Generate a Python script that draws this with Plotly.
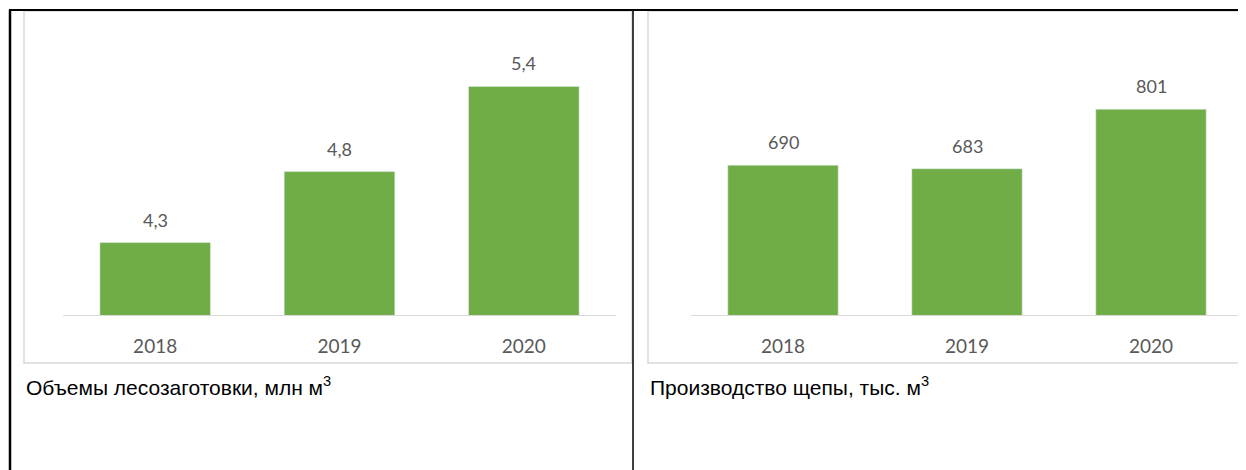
import plotly.graph_objects as go
from plotly.subplots import make_subplots

# data
years = ["2018", "2019", "2020"]
logging_vol = [4.3, 4.8, 5.4]          # млн м3
logging_labels = ["4,3", "4,8", "5,4"]
chips_vol = [690, 683, 801]            # тыс. м3
chips_labels = ["690", "683", "801"]
captions = ["Объемы лесозаготовки, млн м<sup>3</sup>", "Производство щепы, тыс. м<sup>3</sup>"]

# page body has an 8px margin, so the figure is drawn a bit smaller and
# all pixel positions below are given in window coordinates
OFF = 8
W, H = 1246 - OFF, 470 - OFF
GREEN = "#70AD47"
GREY_TXT = "#595959"


def px_x(p):
    return (p - OFF) / W


def px_y(p):
    return 1 - (p - OFF) / H


fig = make_subplots(rows=1, cols=2)

fig.add_trace(go.Bar(x=years, y=logging_vol, marker_color=GREEN, width=0.6,
                     hoverinfo="x+y"), row=1, col=1)
fig.add_trace(go.Bar(x=years, y=chips_vol, marker_color=GREEN, width=0.6,
                     hoverinfo="x+y"), row=1, col=2)

# data labels above bars (x given as category index, "2018" would be read as a number)
for xr, yr, vals, labs in [("x", "y", logging_vol, logging_labels),
                           ("x2", "y2", chips_vol, chips_labels)]:
    for i, (v, t) in enumerate(zip(vals, labs)):
        fig.add_annotation(x=i, y=v, xref=xr, yref=yr, text=t, showarrow=False,
                           yanchor="bottom", yshift=10,
                           font=dict(size=18, color=GREY_TXT, family="Lato"))

ax_x = dict(type="category", range=[-0.5, 2.5], automargin=False, showgrid=False,
            zeroline=False, showline=True, linecolor="#D9D9D9", linewidth=1,
            ticks="", ticklabelstandoff=14, fixedrange=True,
            tickfont=dict(size=19, color=GREY_TXT, family="Lato"))
ax_y = dict(automargin=False, showgrid=False, zeroline=False,
            showticklabels=False, fixedrange=True)

fig.update_layout(
    width=W, height=H,
    margin=dict(l=0, r=0, t=0, b=0),
    paper_bgcolor="white", plot_bgcolor="white",
    showlegend=False, bargap=0.4,
    xaxis=dict(domain=[px_x(63), px_x(616)], **ax_x),
    xaxis2=dict(domain=[px_x(691), px_x(1243)], **ax_x),
    yaxis=dict(domain=[px_y(315), px_y(31)], range=[3.79, 5.79], **ax_y),
    yaxis2=dict(domain=[px_y(315), px_y(31)], range=[393, 956], **ax_y),
)

# chart image frames (light grey)
for x0, x1 in [(24, 632), (648, 1252)]:
    fig.add_shape(type="rect", xref="paper", yref="paper",
                  x0=px_x(x0), x1=px_x(x1), y0=px_y(363), y1=px_y(11),
                  line=dict(color="#D9D9D9", width=1.5), layer="below")

# table borders (black)
fig.add_shape(type="line", xref="paper", yref="paper",
              x0=px_x(9), x1=1, y0=px_y(10), y1=px_y(10),
              line=dict(color="black", width=2))
fig.add_shape(type="line", xref="paper", yref="paper",
              x0=px_x(10), x1=px_x(10), y0=px_y(10), y1=0,
              line=dict(color="black", width=2.5))
fig.add_shape(type="line", xref="paper", yref="paper",
              x0=px_x(633), x1=px_x(633), y0=px_y(10), y1=0,
              line=dict(color="black", width=1.5))

# captions
for xp, txt in zip([24, 648], captions):
    fig.add_annotation(x=px_x(xp), y=px_y(386), xref="paper", yref="paper",
                       text=txt, showarrow=False, xanchor="left", yanchor="middle",
                       font=dict(size=21, color="black", family="Liberation Sans"))

fig.write_html("out.html")
